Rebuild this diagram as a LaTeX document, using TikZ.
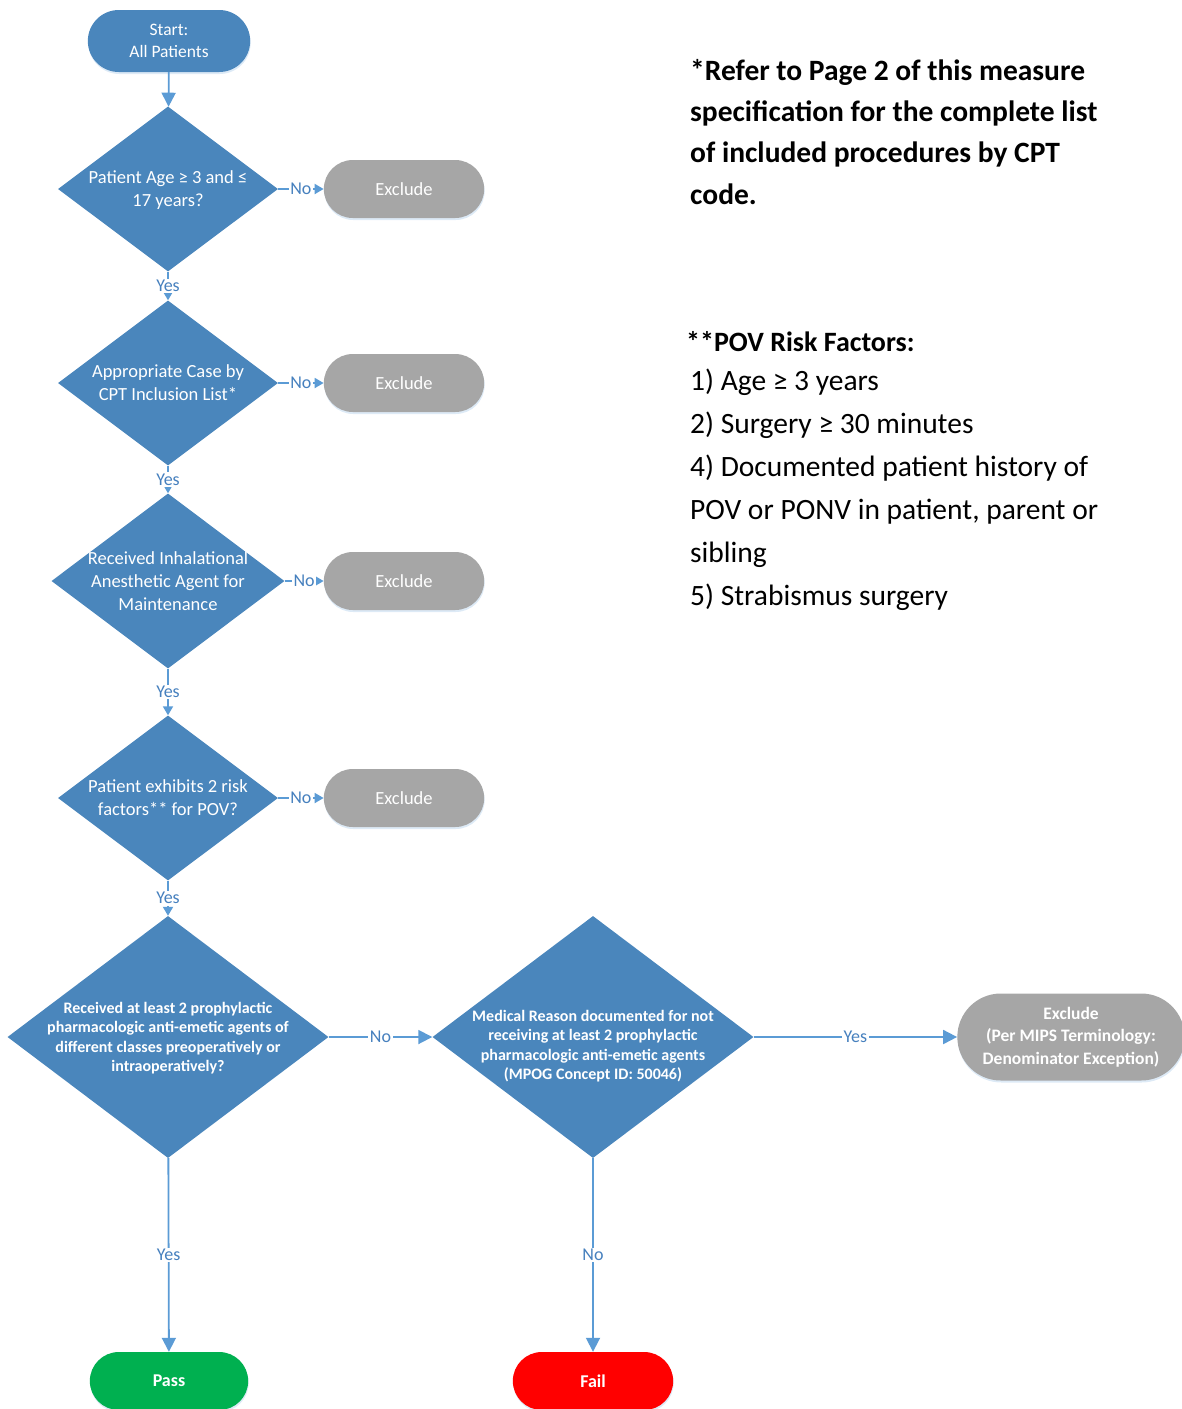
\documentclass[tikz,border=0pt]{standalone}
\usepackage{fontspec}
\setmainfont{Carlito}
\usepackage{tikz}
\usetikzlibrary{arrows.meta, positioning, shapes.geometric, shapes.misc, shadows}

\definecolor{diablue}{RGB}{74,134,188}
\definecolor{linkblue}{RGB}{91,155,213}
\definecolor{lblblue}{RGB}{70,128,190}
\definecolor{exgray}{RGB}{166,166,166}
\definecolor{passgreen}{RGB}{0,176,80}
\definecolor{failred}{RGB}{255,0,0}

\newcommand{\dtxt}[2][6pt]{\smash{\raisebox{-#1}{\smash{\begin{tabular}{@{}c@{}}#2\end{tabular}}}}}

\tikzstyle{decision}=[diamond, fill=diablue, text=white, inner sep=0pt, minimum width=220pt, minimum height=165pt, font=\fontsize{18.5}{23}\selectfont]
\tikzstyle{bigdecision}=[decision, minimum width=321pt, minimum height=242pt, font=\bfseries\fontsize{16}{19.3}\selectfont]
\tikzstyle{terminal}=[rounded rectangle, text=white, align=center, minimum width=167pt, minimum height=58pt, font=\fontsize{18.5}{23}\selectfont, drop shadow={shadow xshift=0.5pt, shadow yshift=-2pt, opacity=0.35, fill=linkblue!60}]
\tikzstyle{exclude}=[terminal, fill=exgray]
\tikzstyle{flow}=[draw=linkblue, line width=1.8pt, -{Triangle[length=14pt,width=14pt]}]
\tikzstyle{shortflow}=[flow, -{Triangle[length=9pt,width=10pt]}]
\tikzstyle{lbl}=[fill=white, text=lblblue, inner sep=1.5pt, font=\fontsize{18}{22}\selectfont]
\tikzstyle{note}=[anchor=north west, align=left, inner sep=0pt]

\begin{document}
\begin{tikzpicture}[x=1pt, y=-1pt]
        \useasboundingbox (0,0) rectangle (1182,1409);

		\node[terminal, fill=diablue, minimum width=169pt, minimum height=62pt, font=\fontsize{17.5}{22}\selectfont] (start) at (169,41) {Start:\\All Patients};
		\node[decision] (age) at (168,189) {\dtxt{Patient Age ≥ 3 and ≤\\17 years?}};
		\node[decision] (cpt) at (168,383) {\dtxt{Appropriate Case by\\CPT Inclusion List*}};
		\node[decision, minimum width=233pt, minimum height=175pt] (inh) at (168,581) {\dtxt{Received Inhalational\\Anesthetic Agent for\\Maintenance}};
		\node[decision] (pov) at (168,798) {\dtxt{Patient exhibits 2 risk\\factors** for POV?}};
		\node[bigdecision] (agents) at (168,1037) {\dtxt{Received at least 2 prophylactic\\pharmacologic anti-emetic agents of\\different classes preoperatively or\\intraoperatively?}};
		\node[bigdecision] (reason) at (593,1037) {\dtxt[14pt]{Medical Reason documented for not\\receiving at least 2 prophylactic\\pharmacologic anti-emetic agents\\(MPOG Concept ID: 50046)}};

		\foreach \name / \y in {exA/189, exB/383, exC/581, exD/798}
		\node[exclude] (\name) at (404,\y) {Exclude};

		\node[exclude, minimum width=234pt, minimum height=87pt, font=\bfseries\fontsize{17.5}{22.5}\selectfont] (exE) at (1071,1037) {Exclude\\(Per MIPS Terminology:\\Denominator Exception)};
		\node[terminal, fill=passgreen, minimum width=165pt, font=\bfseries\fontsize{18}{23}\selectfont] (pass) at (169,1381) {Pass};
		\node[terminal, fill=failred, font=\bfseries\fontsize{18}{23}\selectfont] (fail) at (593,1381) {Fail};

		\node[note, font=\bfseries\fontsize{29.5}{41.3}\selectfont] (cptnote) at (690,59) {*Refer to Page 2 of this measure\\specification for the complete list\\of included procedures by CPT\\code.};
		\node[note, font=\fontsize{29.5}{43}\selectfont] (riskfactors) at (690,331) {\hspace*{-4pt}\textbf{\fontsize{28}{43}\selectfont **POV Risk Factors:}\\[-4pt] 1) Age ≥ 3 years\\2) Surgery ≥ 30 minutes\\4) Documented patient history of\\POV or PONV in patient, parent or\\sibling\\5) Strabismus surgery};

		\path (start) edge[flow] (age);

		\foreach \from / \to in {age/exA, cpt/exB, inh/exC, pov/exD}
		\path (\from) edge[shortflow] node[lbl] {No} (\to);

		\foreach \from / \to in {age/cpt, cpt/inh, inh/pov, pov/agents}
		\path (\from) edge[shortflow] node[lbl] {Yes} (\to);

		\path (agents) edge[flow] node[lbl] {No} (reason);
		\path (reason) edge[flow] node[lbl] {Yes} (exE);
		\path (agents) edge[flow] node[lbl] {Yes} (pass);
		\path (reason) edge[flow] node[lbl] {No} (fail);

	\end{tikzpicture}
\end{document}
